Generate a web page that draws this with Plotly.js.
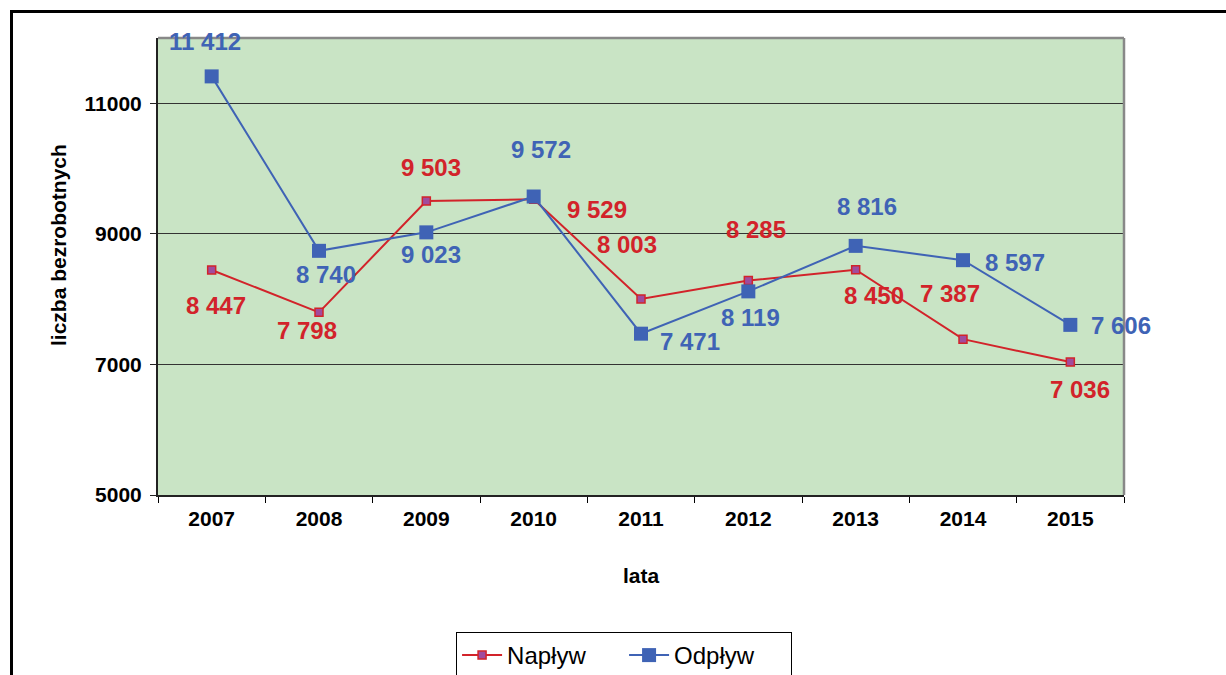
<!DOCTYPE html>
<html>
<head>
<meta charset="utf-8">
<script src="https://cdn.plot.ly/plotly-3.0.1.min.js"></script>
<style>
html,body{margin:0;padding:0;overflow:hidden;background:#fff;}
#wrap{position:relative;width:1226px;height:675px;overflow:hidden;}
#chart{width:1226px;height:675px;}
#frame{position:absolute;left:10px;top:10px;width:1300px;height:700px;border:3px solid #000;pointer-events:none;}
</style>
</head>
<body>
<div id="wrap"><div id="chart"></div><div id="frame"></div></div>
<script>
const years = ['2007','2008','2009','2010','2011','2012','2013','2014','2015'];
const naplyw = [8447, 7798, 9503, 9529, 8003, 8285, 8450, 7387, 7036];
const odplyw = [11412, 8740, 9023, 9572, 7471, 8119, 8816, 8597, 7606];
const naplywLabels = ['8 447','7 798','9 503','9 529','8 003','8 285','8 450','7 387','7 036'];
const odplywLabels = ['11 412','8 740','9 023','9 572','7 471','8 119','8 816','8 597','7 606'];
// label pixel offsets (dx, dy upward positive)
const naplywShift = [[4,-36],[-12,-18],[5,34],[63,-10],[-14,54],[8,51],[18,-26],[-13,46],[10,-27]];
const odplywShift = [[-7,35],[7,-24],[5,-22],[7,47],[49,-8],[2,-26],[11,39],[52,-2],[51,-1]];

const RED = '#D2232A';
const BLUE = '#3F63B5';
const FONT = 'Liberation Sans, Arial, sans-serif';

const annotations = [];
years.forEach((y,i)=>{
  annotations.push({x:i, y:naplyw[i], xref:'x', yref:'y', text:naplywLabels[i], showarrow:false,
    xshift:naplywShift[i][0], yshift:naplywShift[i][1],
    font:{family:FONT, size:24, color:RED, weight:'bold'}});
  annotations.push({x:i, y:odplyw[i], xref:'x', yref:'y', text:odplywLabels[i], showarrow:false,
    xshift:odplywShift[i][0], yshift:odplywShift[i][1],
    font:{family:FONT, size:24, color:BLUE, weight:'bold'}});
});
// y-axis title (placed slightly above the plot centre, as in the original)
annotations.push({xref:'paper', yref:'paper', x:-0.1035, y:0.547, xanchor:'center', yanchor:'middle',
  text:'liczba bezrobotnych', textangle:-90, showarrow:false,
  font:{family:FONT, size:21, color:'#000', weight:'bold'}});

const traces = [
  {x:years, y:naplyw, name:'Napływ', type:'scatter', mode:'lines+markers',
   line:{color:RED, width:2},
   marker:{symbol:'square', size:8, color:'#A04C9E', line:{color:RED, width:1.5}}},
  {x:years, y:odplyw, name:'Odpływ', type:'scatter', mode:'lines+markers',
   line:{color:BLUE, width:2},
   marker:{symbol:'square', size:14, color:BLUE, line:{width:0}}}
];

const layout = {
  width:1226, height:675,
  margin:{l:158, r:102, t:38, b:180},
  paper_bgcolor:'#ffffff',
  plot_bgcolor:'#C9E4C5',
  showlegend:true,
  legend:{orientation:'h', xref:'container', yref:'container', x:0.372, y:1-632/675, xanchor:'left', yanchor:'top',
    bgcolor:'#ffffff', bordercolor:'#000', borderwidth:1,
    entrywidth:112, entrywidthmode:'pixels',
    font:{family:FONT, size:24, color:'#000'}, itemwidth:40, tracegroupgap:0},
  xaxis:{type:'category', range:[-0.5, 8.5], autorange:false, tickson:'boundaries', ticks:'outside', ticklen:6, tickcolor:'#000',
    tickangle:0, automargin:true, ticklabelstandoff:4,
    showline:true, linecolor:'#222', linewidth:2, showgrid:false,
    tickfont:{family:FONT, size:21, color:'#000', weight:'bold'},
    title:{text:'lata', font:{family:FONT, size:21, color:'#000', weight:'bold'}, standoff:39}},
  yaxis:{range:[5000,12000], autorange:false, dtick:2000, tick0:5000, tickformat:'d', ticks:'outside', ticklen:6, tickcolor:'#222',
    automargin:false, ticklabelstandoff:4,
    showline:true, linecolor:'#222', linewidth:2, showgrid:true, gridcolor:'#333', gridwidth:1,
    zeroline:false,
    tickfont:{family:FONT, size:21, color:'#000', weight:'bold'}},
  shapes:[
    {type:'line', xref:'paper', yref:'paper', x0:0, x1:1, y0:1, y1:1, line:{color:'#888', width:2.5}},
    {type:'line', xref:'paper', yref:'paper', x0:1, x1:1, y0:0, y1:1, line:{color:'#888', width:2.5}}
  ],
  annotations:annotations
};

Plotly.newPlot('chart', traces, layout, {displayModeBar:false, staticPlot:true});
</script>
</body>
</html>
